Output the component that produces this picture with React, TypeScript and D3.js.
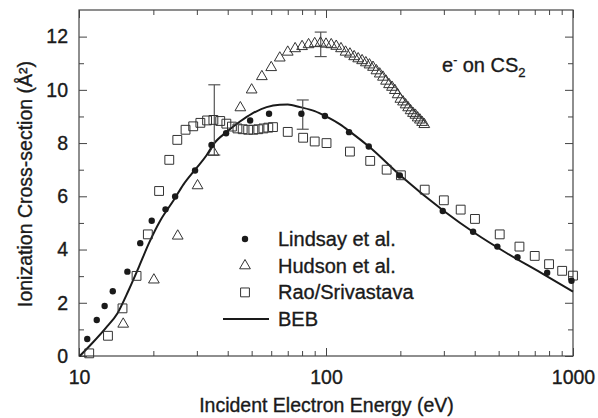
import React, { useEffect, useRef } from "react";
import * as d3 from "d3";

// Lindsay et al. (filled circles)
const lindsayEnergy = [10.8, 11.8, 12.7, 13.7, 15.7, 17.7, 19.7, 22.4, 24.5, 29.5, 34.4, 39.4, 49.3, 58.8, 79.5, 99, 124, 149, 199, 297, 394, 494, 596, 786, 986];
const lindsayValue = [0.64, 1.35, 1.88, 2.43, 3.17, 4.24, 5.08, 5.51, 5.99, 6.97, 7.93, 8.37, 8.85, 9.1, 9.1, 9.02, 8.41, 7.87, 6.78, 5.45, 4.67, 4.11, 3.71, 3.13, 2.83];

// Hudson et al. (open triangles)
const hudsonEnergy = [15.1, 20.1, 25.1, 30.2, 35, 45, 50, 55, 60, 65, 70, 75, 80, 85, 90, 95, 100, 105, 110, 115, 120, 125, 130, 135, 140, 145, 150, 155, 160, 165, 170, 175, 180, 185, 190, 195, 200, 205, 210, 215, 220, 225, 230, 235, 240, 245, 250];
const hudsonValue = [1.2, 2.86, 4.51, 6.4, 7.66, 9.33, 10.0, 10.5, 10.84, 11.2, 11.42, 11.55, 11.63, 11.7, 11.74, 11.76, 11.72, 11.7, 11.64, 11.55, 11.42, 11.35, 11.25, 11.17, 11.1, 11.02, 10.94, 10.85, 10.72, 10.6, 10.48, 10.33, 10.2, 10.1, 9.98, 9.82, 9.65, 9.55, 9.44, 9.33, 9.22, 9.12, 9.05, 8.95, 8.87, 8.78, 8.7];

// Rao/Srivastava (open squares)
const raoEnergy = [11, 13.1, 15, 17.1, 19, 21.1, 23.2, 25, 27, 29, 31, 33, 35, 37.3, 39.5, 41.6, 43.8, 46, 48.4, 50.8, 53.2, 55.8, 58.4, 61, 70, 80.8, 90, 100.5, 125, 151, 176, 201, 251, 300, 351, 401, 505, 607, 700, 800, 904, 1000];
const raoValue = [0.1, 0.76, 1.79, 3.01, 4.57, 6.2, 7.37, 8.12, 8.5, 8.63, 8.76, 8.85, 8.87, 8.83, 8.73, 8.62, 8.55, 8.52, 8.5, 8.5, 8.52, 8.55, 8.58, 8.6, 8.42, 8.2, 8.06, 8.0, 7.68, 7.33, 7.0, 6.79, 6.25, 5.85, 5.5, 5.15, 4.57, 4.11, 3.76, 3.45, 3.2, 3.02];

// BEB theory curve
const bebEnergy = [10.07, 11.3, 12.8, 14.3, 15.9, 17.5, 19.2, 21.4, 24.2, 26.5, 29.5, 32.9, 35, 40, 45, 50, 57.5, 65, 70, 78.5, 90, 100, 114, 125, 150, 200, 300, 400, 540, 740, 1000];
const bebValue = [0, 0.48, 1.04, 1.6, 2.48, 3.36, 4.24, 5.11, 5.86, 6.45, 7.0, 7.55, 7.95, 8.45, 8.82, 9.1, 9.35, 9.44, 9.45, 9.35, 9.2, 9.0, 8.7, 8.43, 7.85, 6.78, 5.45, 4.62, 3.86, 3.13, 2.42];

// error bars: [energy, low, high]
const errorBars: [number, number, number][] = [
  [35.3, 7.55, 10.19],
  [80.5, 8.52, 9.62],
  [95.2, 11.25, 12.17],
];

const legendLabels = ["Lindsay et al.", "Hudson et al.", "Rao/Srivastava", "BEB"];
const xTickValues = [10, 100, 1000];
const yTickValues = [0, 2, 4, 6, 8, 10, 12];

const FONT = "'Liberation Sans', Arial, Helvetica, sans-serif";
const INK = "#1a1a1a";

const App: React.FC = () => {
  const svgRef = useRef<SVGSVGElement | null>(null);
  const width = 598;
  const height = 418;

  useEffect(() => {
    if (!svgRef.current) return;
    const svg = d3.select(svgRef.current);
    svg.selectAll("*").remove();

    const left = 79, right = 573, top = 10, bottom = 356;
    const x = d3.scaleLog().domain([10, 1000]).range([left, right]);
    const y = d3.scaleLinear().domain([0, 13]).range([bottom, top]);

    const xMinor: number[] = [];
    [10, 100].forEach((d) => { for (let k = 2; k <= 9; k++) xMinor.push(d * k); });
    const yMinor = d3.range(1, 13, 2);

    // thicker text to match the scanned look
    const ink = (t: d3.Selection<any, any, any, any>, size: string) =>
      t.attr("fill", INK).attr("stroke", INK).attr("stroke-width", 0.35)
        .style("font-family", FONT).style("font-size", size);

    const styleAxis = (g: d3.Selection<SVGGElement, unknown, null, undefined>) => {
      g.select(".domain").remove();
      g.selectAll("line").attr("stroke", "#444").attr("stroke-width", 1);
      ink(g.selectAll("text"), "19.5px");
    };

    // bottom
    svg.append("g").attr("transform", `translate(0,${bottom})`)
      .call(d3.axisBottom(x).tickValues(xTickValues).tickFormat(d3.format("d")).tickSize(-8).tickPadding(14))
      .call(styleAxis);
    svg.append("g").attr("transform", `translate(0,${bottom})`)
      .call(d3.axisBottom(x).tickValues(xMinor).tickFormat(() => "").tickSize(-5))
      .call(styleAxis);
    // top
    svg.append("g").attr("transform", `translate(0,${top})`)
      .call(d3.axisTop(x).tickValues(xTickValues).tickFormat(() => "").tickSize(-8))
      .call(styleAxis);
    svg.append("g").attr("transform", `translate(0,${top})`)
      .call(d3.axisTop(x).tickValues(xMinor).tickFormat(() => "").tickSize(-5))
      .call(styleAxis);
    // left
    svg.append("g").attr("transform", `translate(${left},0)`)
      .call(d3.axisLeft(y).tickValues(yTickValues).tickSize(-8).tickPadding(11))
      .call(styleAxis);
    svg.append("g").attr("transform", `translate(${left},0)`)
      .call(d3.axisLeft(y).tickValues(yMinor).tickFormat(() => "").tickSize(-5))
      .call(styleAxis);
    // right
    svg.append("g").attr("transform", `translate(${right},0)`)
      .call(d3.axisRight(y).tickValues(yTickValues).tickFormat(() => "").tickSize(-8))
      .call(styleAxis);
    svg.append("g").attr("transform", `translate(${right},0)`)
      .call(d3.axisRight(y).tickValues(yMinor).tickFormat(() => "").tickSize(-5))
      .call(styleAxis);

    // frame
    svg.append("rect")
      .attr("x", left).attr("y", top)
      .attr("width", right - left).attr("height", bottom - top)
      .attr("fill", "none").attr("stroke", "#444").attr("stroke-width", 1.2);

    // axis titles
    ink(svg.append("text")
      .attr("x", (left + right) / 2 + 0.5).attr("y", 412)
      .attr("text-anchor", "middle"), "19.5px")
      .text("Incident Electron Energy (eV)");
    ink(svg.append("text")
      .attr("transform", "translate(32,184) rotate(-90)")
      .attr("text-anchor", "middle"), "19.5px")
      .text("Ionization Cross-section (Å²)");

    const plot = svg.append("g");

    // BEB curve
    const line = d3.line<number>()
      .x((_, i) => x(bebEnergy[i]))
      .y((d) => y(d))
      .curve(d3.curveMonotoneX);
    plot.append("path")
      .datum(bebValue)
      .attr("d", line)
      .attr("fill", "none")
      .attr("stroke", "#1a1a1a")
      .attr("stroke-width", 2);

    // error bars
    errorBars.forEach(([e, lo, hi]) => {
      const g = plot.append("g").attr("stroke", "#555").attr("stroke-width", 1.2);
      g.append("line").attr("x1", x(e)).attr("x2", x(e)).attr("y1", y(lo)).attr("y2", y(hi));
      [lo, hi].forEach((v) => {
        g.append("line").attr("x1", x(e) - 6).attr("x2", x(e) + 6).attr("y1", y(v)).attr("y2", y(v));
      });
    });

    const tri = d3.symbol().type(d3.symbolTriangle).size(50);
    const sq = d3.symbol().type(d3.symbolSquare).size(78);

    // Rao squares
    plot.append("g").selectAll("path")
      .data(raoValue)
      .join("path")
      .attr("d", sq)
      .attr("transform", (d, i) => `translate(${x(raoEnergy[i])},${y(d)})`)
      .attr("fill", "none").attr("stroke", "#333").attr("stroke-width", 1);

    // Hudson triangles
    plot.append("g").selectAll("path")
      .data(hudsonValue)
      .join("path")
      .attr("d", tri)
      .attr("transform", (d, i) => `translate(${x(hudsonEnergy[i])},${y(d)})`)
      .attr("fill", "none").attr("stroke", "#333").attr("stroke-width", 1);

    // Lindsay dots
    plot.append("g").selectAll("circle")
      .data(lindsayValue)
      .join("circle")
      .attr("cx", (_, i) => x(lindsayEnergy[i]))
      .attr("cy", (d) => y(d))
      .attr("r", 3.2)
      .attr("fill", "#1a1a1a");

    // legend
    const lg = svg.append("g");
    legendLabels.forEach((label, i) => {
      const cy = 239 + i * 26.7;
      if (i === 0) lg.append("circle").attr("cx", 245).attr("cy", cy).attr("r", 3.2).attr("fill", "#1a1a1a");
      if (i === 1) lg.append("path").attr("d", tri).attr("transform", `translate(245,${cy})`).attr("fill", "none").attr("stroke", "#333");
      if (i === 2) lg.append("path").attr("d", sq).attr("transform", `translate(245,${cy})`).attr("fill", "none").attr("stroke", "#333");
      if (i === 3) lg.append("line").attr("x1", 223).attr("x2", 269).attr("y1", cy).attr("y2", cy).attr("stroke", "#1a1a1a").attr("stroke-width", 2);
      ink(lg.append("text").attr("x", 278).attr("y", cy + 7), "20px").text(label);
    });

    // annotation e- on CS2
    const ann = ink(svg.append("text").attr("x", 442).attr("y", 72), "20px");
    ann.append("tspan").text("e");
    ann.append("tspan").attr("dy", -8).style("font-size", "12px").text("-");
    ann.append("tspan").attr("dy", 8).text(" on CS");
    ann.append("tspan").attr("dy", 5).style("font-size", "13px").text("2");
  }, []);

  return (
    <svg
      ref={svgRef}
      width={width}
      height={height}
      style={{ position: "absolute", left: 0, top: 0, background: "#fff" }}
    />
  );
};

export default App;
